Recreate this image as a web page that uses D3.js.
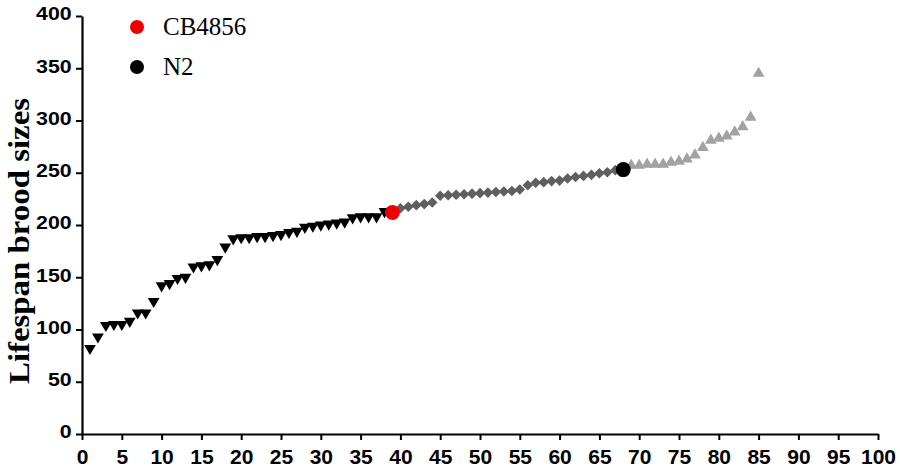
<!DOCTYPE html>
<html><head><meta charset="utf-8">
<script src="https://cdn.jsdelivr.net/npm/d3@7"></script>
<style>body{margin:0;background:#fff}svg{display:block}</style>
</head><body>
<svg id="c" width="900" height="469"></svg>
<script>
// Data: strains ranked by lifespan brood size
const lowRanks = d3.range(1, 39);
const lowValues = [82,93,104,105,105,108,116,116,127,142,144,149,150,160,161,162,167,179,187,188,188,189,189,190,191,193,194,198,199,200,201,202,203,207,208,208,208,213];
const midRanks = d3.range(40, 68);
const midValues = [216,217.5,219,220,221.5,228,228.5,229,229.5,230,230.5,231,231.5,232,232.5,234,238,240.5,241,242,242.5,244.5,246,247,248,249.5,250.5,252.5];
const highRanks = d3.range(69, 86);
const highValues = [257,257,258,258,258,260,261,263,267,274,281,283,285,289,294,303,345];
const refStrains = ["CB4856", "N2"];
const refRanks = [39, 68];
const refValues = [212, 253];
const refColors = ["#ee0000", "#000000"];
const xTicks = d3.range(0, 101, 5);
const yTicks = d3.range(0, 401, 50);

const svg = d3.select("#c");
const x = d3.scaleLinear().domain([0, 100]).range([82, 878]);
const y = d3.scaleLinear().domain([0, 400]).range([434, 16]);

// axes
const xAxis = svg.append("g").attr("transform", "translate(0,434)")
  .call(d3.axisBottom(x).tickValues(xTicks).tickSize(6).tickPadding(10).tickSizeOuter(0));
const yAxis = svg.append("g").attr("transform", "translate(82,0)")
  .call(d3.axisLeft(y).tickValues(yTicks).tickSize(6).tickPadding(5).tickSizeOuter(0));
[xAxis, yAxis].forEach(a => {
  a.select(".domain").attr("stroke", "#000").attr("stroke-width", 2.2);
  a.selectAll(".tick line").attr("stroke", "#000").attr("stroke-width", 2);
  a.selectAll("text").attr("fill", "#000").attr("font-family", "Liberation Sans, Arial, sans-serif").attr("font-weight", "bold");
});
xAxis.selectAll("text").attr("font-size", 21).attr("dy", "0.66em");
yAxis.selectAll("text").attr("font-size", 17.5).attr("dy", "0.22em")
  .attr("x", -8.5).attr("transform", "scale(1.22,1)");

// y label
svg.append("text")
  .attr("transform", "translate(29,241) rotate(-90)")
  .attr("text-anchor", "middle")
  .attr("font-family", "Liberation Serif, Times New Roman, serif")
  .attr("font-weight", "bold").attr("font-size", 30)
  .attr("textLength", 286).attr("lengthAdjust", "spacingAndGlyphs")
  .text("Lifespan brood sizes");

const tri = d3.symbol().type(d3.symbolTriangle).size(60);
const dia = d3.symbol().type(d3.symbolSquare).size(56);

svg.append("g").selectAll("path").data(lowValues).join("path")
  .attr("d", tri)
  .attr("transform", (d, i) => `translate(${x(lowRanks[i])},${y(d)}) rotate(180)`)
  .attr("fill", "#000");

svg.append("g").selectAll("path").data(midValues).join("path")
  .attr("d", dia)
  .attr("transform", (d, i) => `translate(${x(midRanks[i])},${y(d)}) rotate(45)`)
  .attr("fill", "#5f5f5f");

svg.append("g").selectAll("path").data(highValues).join("path")
  .attr("d", tri)
  .attr("transform", (d, i) => `translate(${x(highRanks[i])},${y(d)})`)
  .attr("fill", "#a2a2a2");

svg.append("g").selectAll("circle").data(refValues).join("circle")
  .attr("cx", (d, i) => x(refRanks[i])).attr("cy", d => y(d))
  .attr("r", 7.5).attr("fill", (d, i) => refColors[i]);

// legend
const leg = svg.append("g").selectAll("g").data(refStrains).join("g")
  .attr("transform", (d, i) => `translate(137,${27 + i * 40})`);
leg.append("circle").attr("r", 7).attr("fill", (d, i) => refColors[i]);
leg.append("text").attr("x", 26).attr("y", 8)
  .attr("font-family", "Liberation Serif, Times New Roman, serif")
  .attr("font-size", 25).attr("fill", "#000").text(d => d);
</script>
</body></html>
